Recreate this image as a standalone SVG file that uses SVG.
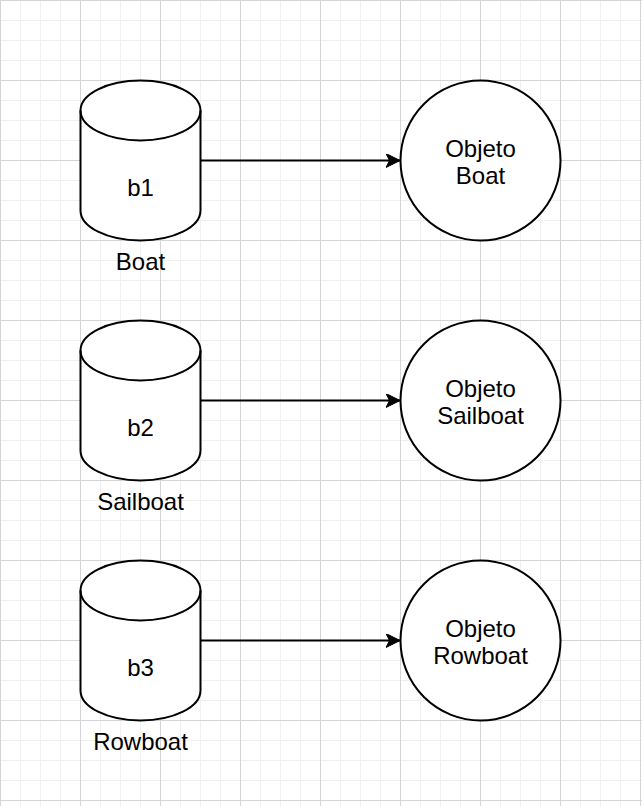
<svg xmlns="http://www.w3.org/2000/svg" width="642" height="806" viewBox="0 0 642 806">
<defs>
<pattern id="grid" patternUnits="userSpaceOnUse" x="0" y="0" width="80" height="80">
<rect width="80" height="80" fill="#ffffff"/>
<path d="M20.5,0V80M40.5,0V80M60.5,0V80M0,20.5H80M0,40.5H80M0,60.5H80" stroke="#f0f0f0" stroke-width="1" fill="none"/>
<path d="M0.5,0V80M0,0.5H80" stroke="#d4d4d4" stroke-width="1" fill="none"/>
</pattern>
<marker id="arrow" viewBox="0 0 14 14" refX="14" refY="7" markerWidth="14" markerHeight="14" markerUnits="userSpaceOnUse" orient="auto">
<path d="M14,7 L0,0 L3.5,7 L0,14 Z" fill="#000000" stroke="#000000" stroke-width="1"/>
</marker>
</defs>
<style>
.shape{fill:#ffffff;stroke:#000000;stroke-width:2}
.inner{fill:none;stroke:#000000;stroke-width:2}
.conn{fill:none;stroke:#000000;stroke-width:2}
text{font-family:"Liberation Sans",Helvetica,Arial,sans-serif;font-size:24px;fill:#000000;text-anchor:middle}
</style>
<rect width="642" height="806" fill="url(#grid)"/>
<g id="connectors">
<path class="conn" d="M200.5,160.5 L400,160.5" marker-end="url(#arrow)"/>
<path class="conn" d="M200.5,400.5 L400,400.5" marker-end="url(#arrow)"/>
<path class="conn" d="M200.5,640.5 L400,640.5" marker-end="url(#arrow)"/>
</g>
<g id="b1">
<path class="shape" d="M80.5,110.5 A60,30 0 0 1 200.5,110.5 L200.5,210.5 A60,30 0 0 1 80.5,210.5 Z"/>
<path class="inner" d="M80.5,110.5 A60,30 0 0 0 200.5,110.5"/>
<text x="140.5" y="196">b1</text>
<text x="140.5" y="270">Boat</text>
</g>
<g id="b2" transform="translate(0,240)">
<path class="shape" d="M80.5,110.5 A60,30 0 0 1 200.5,110.5 L200.5,210.5 A60,30 0 0 1 80.5,210.5 Z"/>
<path class="inner" d="M80.5,110.5 A60,30 0 0 0 200.5,110.5"/>
<text x="140.5" y="196">b2</text>
<text x="140.5" y="270">Sailboat</text>
</g>
<g id="b3" transform="translate(0,480)">
<path class="shape" d="M80.5,110.5 A60,30 0 0 1 200.5,110.5 L200.5,210.5 A60,30 0 0 1 80.5,210.5 Z"/>
<path class="inner" d="M80.5,110.5 A60,30 0 0 0 200.5,110.5"/>
<text x="140.5" y="196">b3</text>
<text x="140.5" y="270">Rowboat</text>
</g>
<g id="objBoat">
<circle class="shape" cx="480.5" cy="160.5" r="80"/>
<text x="480.5" y="156.5">Objeto</text>
<text x="480.5" y="184">Boat</text>
</g>
<g id="objSailboat">
<circle class="shape" cx="480.5" cy="400.5" r="80"/>
<text x="480.5" y="396.5">Objeto</text>
<text x="480.5" y="424">Sailboat</text>
</g>
<g id="objRowboat">
<circle class="shape" cx="480.5" cy="640.5" r="80"/>
<text x="480.5" y="636.5">Objeto</text>
<text x="480.5" y="664">Rowboat</text>
</g>
</svg>
